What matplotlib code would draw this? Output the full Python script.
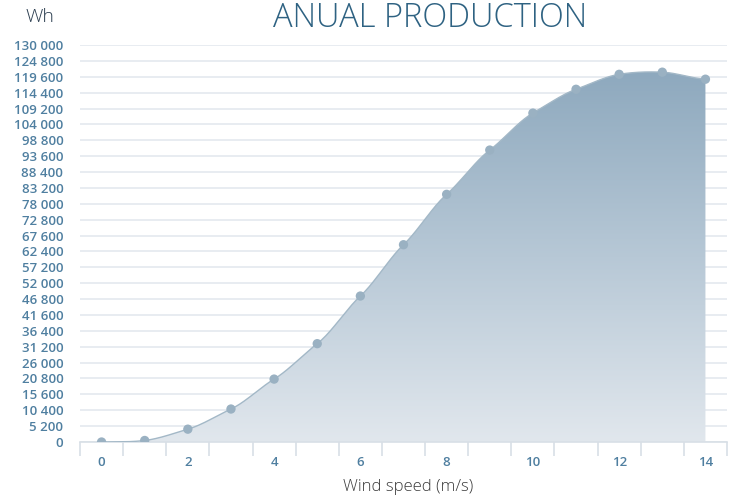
import matplotlib
matplotlib.use("Agg")
import matplotlib.pyplot as plt         # plotting
import numpy as np                      # arrays
from matplotlib.colors import LinearSegmentedColormap
from matplotlib.path import Path
from matplotlib.patches import PathPatch

# Data
wind_speed = [0, 1, 2, 3, 4, 5, 6, 7, 8, 9, 10, 11, 12, 13, 14]
production = [0, 500, 4200, 10800, 20600, 32200, 47800, 64600, 81100,
              95600, 107700, 115500, 120400, 121100, 118800]
y_ticks = list(range(0, 130001, 5200))
x_labels = [0, 2, 4, 6, 8, 10, 12, 14]

title = "ANUAL PRODUCTION"
unit = "Wh"
x_title = "Wind speed (m/s)"


# Smooth curve through the points (Catmull-Rom, only for drawing)
def smooth(xs, ys, n=20):
    xs = np.asarray(xs, float)
    ys = np.asarray(ys, float)
    px = np.concatenate([[2 * xs[0] - xs[1]], xs, [2 * xs[-1] - xs[-2]]])
    py = np.concatenate([[ys[0]], ys, [ys[-1]]])
    out_x, out_y = [], []
    for i in range(1, len(px) - 2):
        t = np.linspace(0, 1, n, endpoint=False)
        h1 = 2 * t**3 - 3 * t**2 + 1
        h2 = -2 * t**3 + 3 * t**2
        h3 = t**3 - 2 * t**2 + t
        h4 = t**3 - t**2
        mx1 = (px[i + 1] - px[i - 1]) / 2
        mx2 = (px[i + 2] - px[i]) / 2
        my1 = (py[i + 1] - py[i - 1]) / 2 * 0.8
        my2 = (py[i + 2] - py[i]) / 2 * 0.8
        out_x.extend(h1 * px[i] + h2 * px[i + 1] + h3 * mx1 + h4 * mx2)
        out_y.extend(h1 * py[i] + h2 * py[i + 1] + h3 * my1 + h4 * my2)
    out_x.append(xs[-1])
    out_y.append(ys[-1])
    return np.array(out_x), np.array(out_y)


fig = plt.figure(figsize=(7.39, 4.97), dpi=100)
ax = fig.add_axes([80 / 739, 1 - 442 / 497, 647 / 739, 397 / 497])

ax.set_xlim(-0.5, 14.5)
ax.set_ylim(0, 130000)

sx, sy = smooth(wind_speed, production)

# gradient fill under the curve
cmap = LinearSegmentedColormap.from_list("fill", ["#e1e7ed", "#b7c8d6", "#8ea9be"])
grad = np.linspace(0, 1, 256).reshape(-1, 1)
img = ax.imshow(grad, cmap=cmap, origin="lower", aspect="auto",
                extent=[wind_speed[0], wind_speed[-1], 0, max(production)],
                zorder=2)
verts = np.column_stack([np.concatenate([[sx[0]], sx, [sx[-1]]]),
                         np.concatenate([[0], sy, [0]])])
clip = PathPatch(Path(verts), transform=ax.transData, facecolor="none", edgecolor="none")
ax.add_patch(clip)
img.set_clip_path(clip)

ax.plot(sx, sy, color="#a3b8c7", lw=1.0, zorder=3)
ax.scatter(wind_speed, production, s=45, color="#9ab1c2", zorder=4, edgecolors="none")

# grid
ax.set_yticks(y_ticks)
ax.set_yticklabels([f"{v:,}".replace(",", " ") for v in y_ticks])
ax.yaxis.grid(True, color="#e4e9ef", lw=1.2)
ax.set_axisbelow(True)
for s in ["top", "right", "left"]:
    ax.spines[s].set_visible(False)
ax.spines["bottom"].set_color("#d8dfe6")
ax.spines["bottom"].set_linewidth(1.2)

ax.tick_params(axis="y", length=0, pad=12, labelsize=9.5, labelcolor="#4f7fa0")
ax.set_xticks(x_labels)
ax.set_xticks(np.arange(-0.5, 15, 1), minor=True)
ax.tick_params(axis="x", which="major", length=0, pad=10, labelsize=9.5, labelcolor="#4f7fa0")
ax.tick_params(axis="x", which="minor", length=10, color="#d8dfe6", width=1.2)
for lab in ax.get_xticklabels() + ax.get_yticklabels():
    lab.set_fontweight("semibold")
    lab.set_family("Open Sans")

fig.text(430 / 739, 1 - 27 / 497, title, ha="center", va="baseline",
         fontsize=23.5, color="#2e6282", family="Open Sans", fontweight="light")
fig.text(40 / 739, 1 - 17 / 497, unit, ha="center", va="center",
         fontsize=14, color="#2c3e50", family="Open Sans", fontweight="light")
fig.text(408 / 739, 1 - 487 / 497, x_title, ha="center", va="center",
         fontsize=12, color="#3a3a3a", family="Open Sans", fontweight="light")

fig.savefig("out.png", dpi=100)
